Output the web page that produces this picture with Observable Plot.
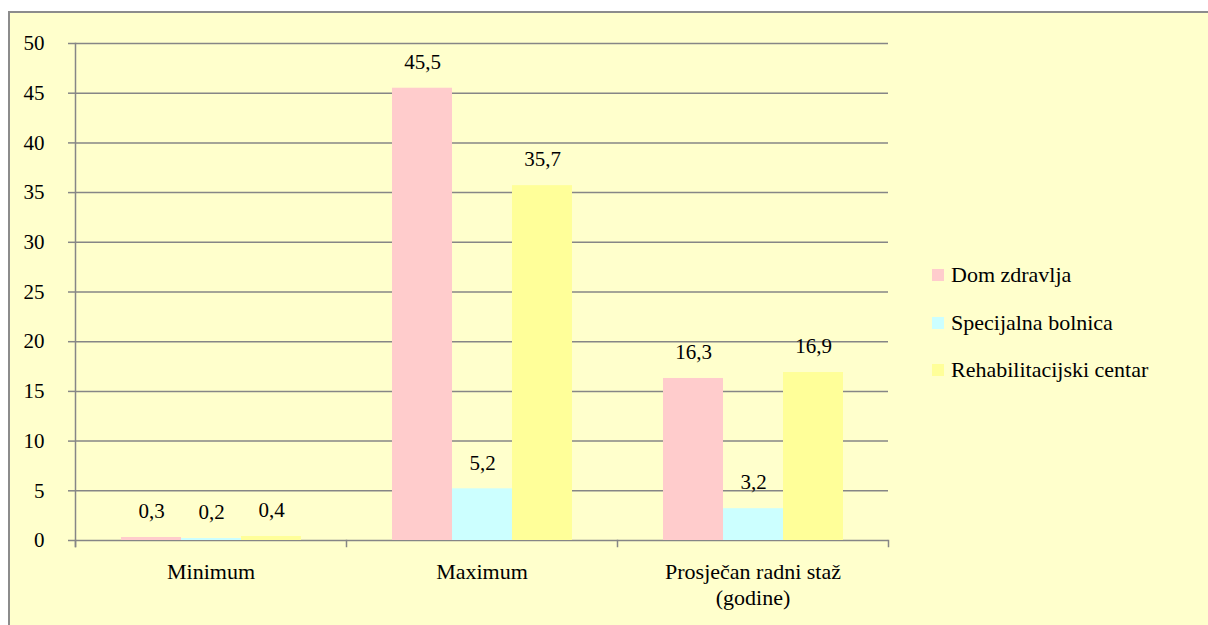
<!DOCTYPE html>
<html><head><meta charset="utf-8">
<script src="https://cdn.jsdelivr.net/npm/d3@7"></script>
<script src="https://cdn.jsdelivr.net/npm/@observablehq/plot@0.6"></script>
<style>
body{margin:0;background:#fff;font-family:"Liberation Serif","Times New Roman","DejaVu Serif",serif;}
#frame{position:absolute;left:8px;top:11px;width:1210px;height:620px;background:#FFFFCC;border:2px solid #8c8c8c;box-sizing:border-box;overflow:hidden;}
#chart{position:absolute;left:0;top:0;}
#legend{position:absolute;left:922px;top:249px;font-size:22px;color:#000;}
.item{display:flex;align-items:center;height:26px;margin-bottom:21.5px;white-space:nowrap;}
.sw{width:12px;height:12px;margin-right:7px;}
</style>
</head><body>
<div id="frame"><div id="chart"></div><div id="legend"></div></div>
<script>
const categories = ["Minimum", "Maximum", "Prosječan radni staž (godine)"];
const categoryLabels = ["Minimum", "Maximum", "Prosječan radni staž\n(godine)"];
const series = ["Dom zdravlja", "Specijalna bolnica", "Rehabilitacijski centar"];
const domZdravlja = [0.3, 45.5, 16.3];
const specijalnaBolnica = [0.2, 5.2, 3.2];
const rehabCentar = [0.4, 35.7, 16.9];
const colors = ["#FFCCCC", "#CCFFFF", "#FFFF99"];
const yTicks = [0, 5, 10, 15, 20, 25, 30, 35, 40, 45, 50];

const valuesBySeries = [domZdravlja, specijalnaBolnica, rehabCentar];
const rows = [];
categories.forEach((c, i) => series.forEach((s, j) => rows.push({category: c, series: s, value: valuesBySeries[j][i]})));
const fmt = v => String(v).replace(".", ",");

const W = 890, H = 610, mT = 30, mB = 83, mL = 65, mR = 12;
const innerH = H - mT - mB;
const grey = "#868686";

const chart = Plot.plot({
  width: W, height: H,
  marginTop: mT, marginBottom: mB, marginLeft: mL, marginRight: mR,
  style: {background: "transparent", fontFamily: "'Liberation Serif','Times New Roman','DejaVu Serif',serif", fontSize: "21px", color: "#000", overflow: "visible"},
  fx: {domain: categories, padding: 0, label: null},
  x: {domain: series, paddingInner: 0, paddingOuter: 0.758, axis: null},
  y: {domain: [0, 50], label: null},
  color: {domain: series, range: colors},
  marks: [
    Plot.gridY(yTicks, {stroke: grey, strokeOpacity: 1, strokeWidth: 1.5}),
    Plot.barY(rows, {fx: "category", x: "series", y: "value", fill: "series"}),
    Plot.text(rows, {fx: "category", x: "series", y: "value", text: d => fmt(d.value), dy: -26, fontSize: 21, fill: "#000"}),
    Plot.axisY(yTicks, {tickSize: 7, tickPadding: 24, stroke: grey, strokeWidth: 1.5, fontSize: 21, label: null}),
    Plot.axisFx({anchor: "bottom", tickSize: 0, tickPadding: 21, label: null, fontSize: 22, lineHeight: 1.15,
      tickFormat: d => categoryLabels[categories.indexOf(d)]}),
    Plot.frame({anchor: "left", facetAnchor: "left", stroke: grey, strokeWidth: 1.5, insetBottom: -6}),
    Plot.frame({anchor: "left", stroke: grey, strokeWidth: 1.5, insetTop: innerH, insetBottom: -6}),
    Plot.frame({anchor: "right", facetAnchor: "right", stroke: grey, strokeWidth: 1.5, insetTop: innerH, insetBottom: -6})
  ]
});
document.getElementById("chart").appendChild(chart);

const legend = document.getElementById("legend");
series.forEach((s, i) => {
  const it = document.createElement("div");
  it.className = "item";
  const sw = document.createElement("span");
  sw.className = "sw";
  sw.style.background = colors[i];
  const t = document.createElement("span");
  t.textContent = s;
  it.appendChild(sw); it.appendChild(t);
  legend.appendChild(it);
});
</script>
</body></html>
